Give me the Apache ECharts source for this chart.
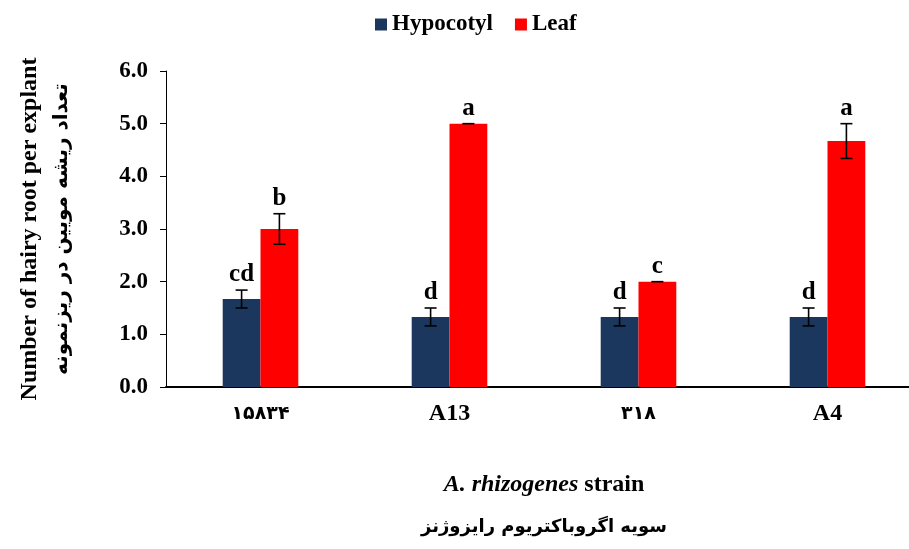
<!DOCTYPE html>
<html><head><meta charset="utf-8">
<script src="https://cdn.jsdelivr.net/npm/echarts@6/dist/echarts.min.js"></script>
<style>html,body{margin:0;padding:0;background:#fff}#c{width:909px;height:549px}</style>
</head><body><div id="c"></div>
<script>
const categories = ['۱۵۸۳۴', 'A13', '۳۱۸', 'A4'];
const seriesNames = ['Hypocotyl', 'Leaf'];
const hypocotyl = [1.67, 1.33, 1.33, 1.33];
const hypocotylErr = [0.17, 0.17, 0.17, 0.17];
const hypocotylLetters = ['cd', 'd', 'd', 'd'];
const leaf = [3.0, 5.0, 2.0, 4.67];
const leafErr = [0.29, 0, 0, 0.33];
const leafLetters = ['b', 'a', 'c', 'a'];
const yMin = 0, yMax = 6, yStep = 1;

const SERIF = 'Liberation Serif';
const FA = 'DejaVu Sans';

function errSeries(vals, errs, letters, side) {
  return {
    type: 'custom', z: 10, silent: true,
    data: vals.map((v, i) => [i, v, errs[i]]),
    renderItem: (params, api) => {
      const i = api.value(0), v = api.value(1), e = api.value(2);
      const band = api.size([1, 0])[0];
      const x = api.coord([i, v])[0] + side * band * 0.1;
      const yt = api.coord([i, v + e])[1];
      const yb = api.coord([i, v - e])[1];
      const cap = 6;
      const st = { stroke: '#000', lineWidth: 1.6 };
      const ch = [];
      if (e > 0) {
        ch.push({ type: 'line', shape: { x1: x, y1: yt, x2: x, y2: yb }, style: st });
        ch.push({ type: 'line', shape: { x1: x - cap, y1: yb, x2: x + cap, y2: yb }, style: st });
      }
      ch.push({ type: 'line', shape: { x1: x - cap, y1: yt, x2: x + cap, y2: yt }, style: st });
      ch.push({ type: 'text', style: { text: letters[params.dataIndex], x: x, y: yt - 3,
        align: 'center', verticalAlign: 'bottom', fill: '#000',
        font: 'bold 25px "' + SERIF + '"' } });
      return { type: 'group', children: ch };
    }
  };
}

const isFa = s => /[\u0600-\u06FF]/.test(s);

const chart = echarts.init(document.getElementById('c'));
chart.setOption({
  animation: false,
  backgroundColor: '#fff',
  legend: {
    data: seriesNames, left: 370, top: 8, itemWidth: 12, itemHeight: 12, itemGap: 22,
    icon: 'rect',
    textStyle: { fontFamily: SERIF, fontWeight: 'bold', fontSize: 23, color: '#000' }
  },
  grid: { left: 166, top: 71, width: 756, height: 316, outerBoundsMode: 'none', containLabel: false },
  xAxis: {
    type: 'category', data: categories,
    axisLine: { lineStyle: { color: '#000', width: 2 } },
    axisTick: { show: false },
    axisLabel: { margin: 12, color: '#000', fontFamily: SERIF, fontWeight: 'bold', fontSize: 24, lineHeight: 30,
      formatter: s => isFa(s) ? '{fa|' + s + '}' : s,
      rich: { fa: { fontFamily: FA, fontWeight: 'bold', fontSize: 19, color: '#000', lineHeight: 30 } } },
    name: '{it|A. rhizogenes}{b| strain}\n{fa|سویه اگروباکتریوم رایزوژنز}',
    nameLocation: 'middle', nameGap: 76,
    nameTextStyle: {
      align: 'center', lineHeight: 43,
      rich: {
        it: { fontFamily: SERIF, fontWeight: 'bold', fontStyle: 'italic', fontSize: 24, color: '#000', lineHeight: 43 },
        b: { fontFamily: SERIF, fontWeight: 'bold', fontSize: 24, color: '#000', lineHeight: 43 },
        fa: { fontFamily: FA, fontWeight: 'bold', fontSize: 18, color: '#000', lineHeight: 43 }
      }
    }
  },
  yAxis: {
    type: 'value', min: yMin, max: yMax, interval: yStep,
    axisLine: { show: true, lineStyle: { color: '#000', width: 1 } },
    axisTick: { show: true, length: 6, lineStyle: { color: '#000' } },
    splitLine: { show: false },
    axisLabel: { margin: 18, color: '#000', fontFamily: SERIF, fontWeight: 'bold', fontSize: 23,
      formatter: v => v.toFixed(1) },
    name: '{en|Number of hairy root per explant}\n{fa|تعداد ریشه مویین در ریزنمونه}',
    nameLocation: 'middle', nameRotate: 90, nameGap: 88,
    nameTextStyle: {
      align: 'center', lineHeight: 32,
      rich: {
        en: { fontFamily: SERIF, fontWeight: 'bold', fontSize: 24, color: '#000', lineHeight: 32 },
        fa: { fontFamily: FA, fontWeight: 'bold', fontSize: 20, color: '#000', lineHeight: 32 }
      }
    }
  },
  series: [
    { name: seriesNames[0], type: 'bar', data: hypocotyl, barWidth: '20%', barGap: '0%',
      itemStyle: { color: '#1c375e' } },
    { name: seriesNames[1], type: 'bar', data: leaf, barWidth: '20%', barGap: '0%',
      itemStyle: { color: '#ff0000' } },
    errSeries(hypocotyl, hypocotylErr, hypocotylLetters, -1),
    errSeries(leaf, leafErr, leafLetters, 1)
  ]
});
</script></body></html>
